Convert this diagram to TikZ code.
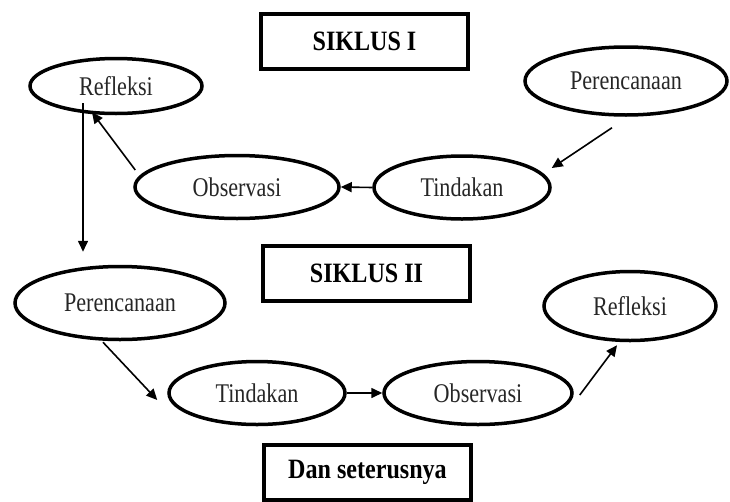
\documentclass[tikz,border=0pt]{standalone}
\usepackage{fontspec}
\setmainfont{Liberation Serif}
\usepackage{graphicx}
\usetikzlibrary{arrows.meta,shapes.geometric}
\newcommand\sqz[1]{\scalebox{0.82}[1]{#1}}
\newcommand\sqb[1]{\scalebox{0.86}[1]{#1}}
\begin{document}
\begin{tikzpicture}[x=1pt,y=-1pt,
  ell/.style={draw, ellipse, line width=3.5pt, inner sep=0pt,
    font=\fontsize{27}{27}\selectfont, text=black!85},
  titlebox/.style={draw, rectangle, line width=4pt, inner sep=0pt,
    minimum width=207pt, minimum height=55pt,
    font=\fontsize{28}{28}\selectfont\bfseries},
  arr/.style={line width=1.6pt, -{Triangle[length=11pt,width=10pt]}}]
\useasboundingbox (0,0) rectangle (730,501);
% title boxes
\node[titlebox] (s1) at (364.5,41) {\sqb{SIKLUS I}};
\node[titlebox] (s2) at (366.5,273.5) {\sqb{SIKLUS II}};
\node[titlebox] (s3) at (367.5,472) {\sqb{Dan seterusnya}};
% cycle I
\node[ell, minimum width=172pt, minimum height=55pt] (refl1) at (116,86) {\sqz{Refleksi}};
\node[ell, minimum width=202pt, minimum height=68pt] (per1) at (626,81) {\sqz{Perencanaan}};
\node[ell, minimum width=204pt, minimum height=63pt] (obs1) at (237,187) {\sqz{Observasi}};
\node[ell, minimum width=176pt, minimum height=63pt] (tin1) at (462,187.5) {\sqz{Tindakan}};
% cycle II
\node[ell, minimum width=210pt, minimum height=73pt] (per2) at (120,303) {\sqz{Perencanaan}};
\node[ell, minimum width=176pt, minimum height=63pt] (tin2) at (257,393) {\sqz{Tindakan}};
\node[ell, minimum width=188pt, minimum height=63pt] (obs2) at (478,393) {\sqz{Observasi}};
\node[ell, minimum width=172pt, minimum height=69pt] (refl2) at (630,306) {\sqz{Refleksi}};
% connectors
\draw[arr] ([shift={(-14,11)}]per1.south) -- ([shift={(0,-19.5)}]tin1.east);
\draw[arr] (tin1.west) -- (obs1.east);
\draw[arr] ([shift={(2,-17)}]obs1.west) -- ([shift={(-24,-3)}]refl1.south);
\draw[arr] ([shift={(-33,17)}]refl1.center) -- ([shift={(-37,-13)}]per2.north);
\draw[arr] ([shift={(-17,1)}]per2.south) -- ([shift={(-10,7)}]tin2.west);
\draw[arr] (tin2.east) -- (obs2.west);
\draw[arr] ([shift={(6,2)}]obs2.east) -- ([shift={(-13,3)}]refl2.south);
\end{tikzpicture}
\end{document}
